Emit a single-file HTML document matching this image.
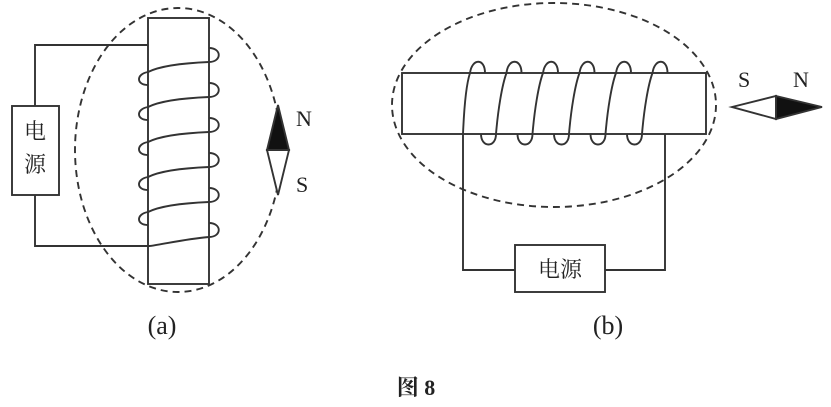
<!DOCTYPE html>
<html><head><meta charset="utf-8"><style>
html,body{margin:0;padding:0;background:#fff;}
svg{display:block}
text{font-family:"Liberation Serif","Noto Serif CJK SC",serif;fill:#222}
</style></head><body>
<svg width="831" height="407" viewBox="0 0 831 407" xmlns="http://www.w3.org/2000/svg">
<g fill="none" stroke="#333" stroke-width="1.9">
<!-- (a) -->
<ellipse cx="178" cy="150" rx="103" ry="142" stroke-dasharray="7,5"/>
<rect x="148" y="18" width="61" height="266" fill="#fff"/>
<rect x="12" y="106" width="47" height="89" fill="#fff"/>
<path d="M35 106 V45 H148 M35 195 V246 H150"/>
<path d="M209 48 C222 48 222 62 209 62 C185 63 160 66 148 72 C136 74 136 85 148 85"/>
<path d="M209 83 C222 83 222 97 209 97 C185 98 160 101 148 107 C136 109 136 120 148 120"/>
<path d="M209 118 C222 118 222 132 209 132 C185 133 160 136 148 142 C136 144 136 155 148 155"/>
<path d="M209 153 C222 153 222 167 209 167 C185 168 160 171 148 177 C136 179 136 190 148 190"/>
<path d="M209 188 C222 188 222 202 209 202 C185 203 160 206 148 212 C136 214 136 225 148 225"/>
<path d="M209 223 C222 223 222 237 209 237 C185 239 165 244 150 246"/>
<!-- (b) -->
<ellipse cx="554" cy="105" rx="162" ry="102" stroke-dasharray="7,5"/>
<rect x="402" y="73" width="304" height="61" fill="#fff"/>
<path d="M463 134 V270 H515 M605 270 H665 V134"/>
<rect x="515" y="245" width="90" height="47" fill="#fff"/>
<path d="M463 134 C464 110 466 85 470 73 C472 58 485 58 485 73"/>
<path d="M481 134 C481 148 496 148 496 134 C498 110 502 85 506.5 73 C508 58 521.5 58 521.5 73"/>
<path d="M517.5 134 C517.5 148 532.5 148 532.5 134 C534.5 110 538.5 85 543 73 C545 58 558 58 558 73"/>
<path d="M554 134 C554 148 569 148 569 134 C571 110 575 85 579.5 73 C581.5 58 594.5 58 594.5 73"/>
<path d="M590.5 134 C590.5 148 605.5 148 605.5 134 C607.5 110 611.5 85 616 73 C618 58 631 58 631 73"/>
<path d="M627 134 C627 148 642 148 642 134 C644 110 648 85 652.5 73 C654.5 58 667.5 58 667.5 73"/>
<!-- compasses -->
<polygon points="278,105 267,150 289,150" fill="#111"/>
<polygon points="267,150 289,150 278,195" fill="#fff"/>
<polygon points="732,107 776,96 776,119" fill="#fff"/>
<polygon points="776,96 822,107 776,119" fill="#111"/>
</g>
<text x="35" y="139" font-size="22" text-anchor="middle">电</text>
<text x="35" y="172" font-size="22" text-anchor="middle">源</text>
<text x="560" y="277" font-size="22" text-anchor="middle">电源</text>
<text x="296" y="126" font-size="22">N</text>
<text x="296" y="192" font-size="22">S</text>
<text x="738" y="87" font-size="22">S</text>
<text x="793" y="87" font-size="22">N</text>
<text x="162" y="334" font-size="26" text-anchor="middle">(a)</text>
<text x="608" y="334" font-size="26" text-anchor="middle">(b)</text>
<text x="416" y="395" font-size="22" font-weight="bold" text-anchor="middle">图 8</text>
</svg>
</body></html>
